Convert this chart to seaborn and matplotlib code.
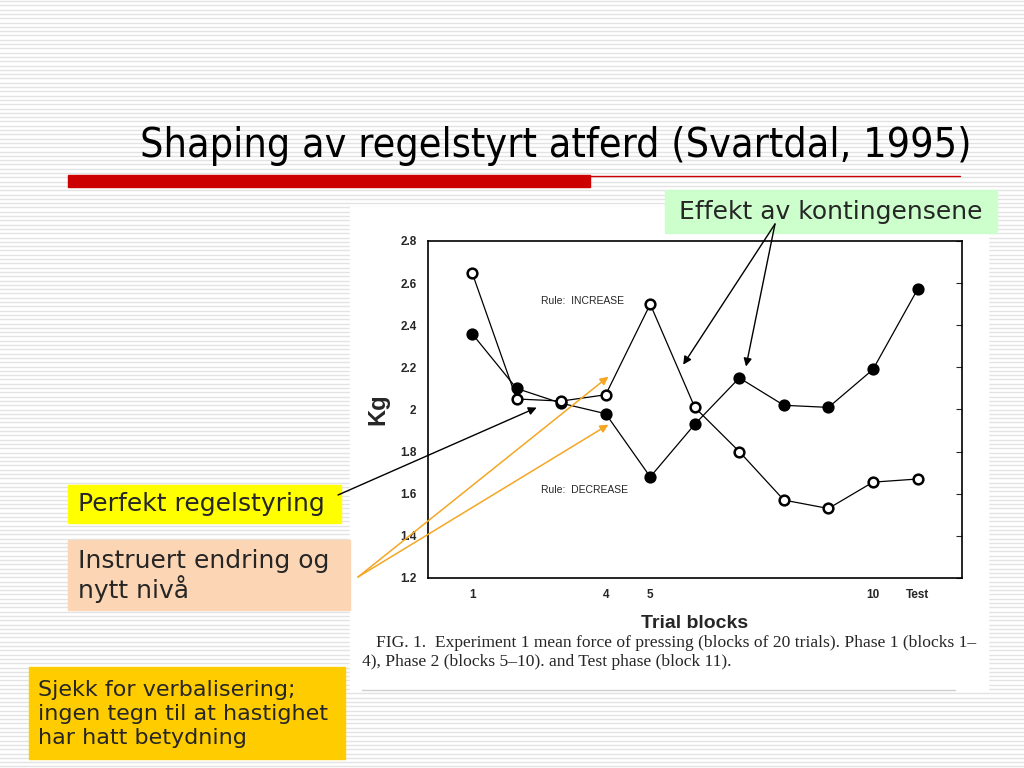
import numpy as np
import pandas as pd
import seaborn as sns
import matplotlib.pyplot as plt
from matplotlib.patches import Rectangle

blocks = [1, 2, 3, 4, 5, 6, 7, 8, 9, 10, 11]
increase = [2.36, 2.10, 2.03, 1.98, 1.68, 1.93, 2.15, 2.02, 2.01, 2.19, 2.57]
decrease = [2.65, 2.05, 2.04, 2.07, 2.50, 2.01, 1.80, 1.57, 1.53, 1.655, 1.67]
x_labels = ['1', '', '', '4', '5', '', '', '', '', '10', 'Test']
y_ticks = [1.2, 1.4, 1.6, 1.8, 2.0, 2.2, 2.4, 2.6, 2.8]
y_labels = ['1.2', '1.4', '1.6', '1.8', '2', '2.2', '2.4', '2.6', '2.8']

df = pd.DataFrame({'block': blocks * 2,
                   'kg': increase + decrease,
                   'rule': ['INCREASE'] * 11 + ['DECREASE'] * 11})

sns.set_style('white')
plt.rcParams['font.family'] = ['DejaVu Sans']

fig = plt.figure(figsize=(10.24, 7.68), dpi=100)

# slide background in pixel coordinates
bg = fig.add_axes([0, 0, 1, 1], zorder=0)
bg.set_xlim(0, 1024)
bg.set_ylim(768, 0)
bg.axis('off')
for yy in np.arange(1, 768, 4.3):
    bg.axhline(yy, color='#e3e3e3', lw=1.0, zorder=0)
bg.add_patch(Rectangle((350, 207), 638, 483, color='white', zorder=1))
bg.plot([362, 955], [690, 690], color='#cfcfcf', lw=1, zorder=2)
bg.add_patch(Rectangle((68, 175), 522, 12, color='#cc0000', zorder=2))
bg.plot([590, 960], [175.5, 175.5], color='#cc0000', lw=1, zorder=2)
bg.text(140, 146, 'Shaping av regelstyrt atferd (Svartdal, 1995)', fontsize=29.5,
        fontstretch='condensed', va='center', ha='left', color='black', zorder=3)
bg.text(376, 643, 'FIG. 1.  Experiment 1 mean force of pressing (blocks of 20 trials). Phase 1 (blocks 1\u2013',
        family='Liberation Serif', fontsize=12.6, va='center', zorder=3)
bg.text(362, 662, '4), Phase 2 (blocks 5\u201310). and Test phase (block 11).',
        family='Liberation Serif', fontsize=12.6, va='center', zorder=3)

# chart
ax = fig.add_axes([0.4175, 0.2474, 0.522, 0.4388], zorder=1)
ax.patch.set_alpha(0)
for rule, face in [('INCREASE', 'black'), ('DECREASE', 'white')]:
    sub = df[df['rule'] == rule]
    sns.lineplot(data=sub, x='block', y='kg', ax=ax, color='black', lw=0.9,
                 marker='o', markersize=7, markerfacecolor=face,
                 markeredgecolor='black', markeredgewidth=1.8)
ax.set_xlim(0, 12)
ax.set_ylim(1.2, 2.8)
ax.set_xticks(blocks)
ax.set_xticklabels(x_labels, family='Liberation Sans', fontsize=8.5, fontweight='bold')
ax.set_yticks(y_ticks)
ax.set_yticklabels(y_labels, family='Liberation Sans', fontsize=8.5, fontweight='bold')
ax.tick_params(direction='in', length=4, width=0.8, right=True, pad=8)
for s in ax.spines.values():
    s.set_color('black')
    s.set_linewidth(1.2)
ax.set_xlabel('Trial blocks', family='Liberation Sans', fontsize=14, fontweight='bold', labelpad=10)
ax.set_ylabel('Kg', family='Liberation Sans', fontsize=17, fontweight='bold', labelpad=8)
ax.text(2.55, 2.515, 'Rule:  INCREASE', family='Liberation Sans', fontsize=7.5, va='center')
ax.text(2.55, 1.62, 'Rule:  DECREASE', family='Liberation Sans', fontsize=7.5, va='center')

# overlay with callouts
ov = fig.add_axes([0, 0, 1, 1], zorder=2)
ov.set_xlim(0, 1024)
ov.set_ylim(768, 0)
ov.axis('off')
ov.patch.set_alpha(0)

box_font = 18
ov.add_patch(Rectangle((665, 190), 332, 43, color='#ccffcc'))
ov.text(831, 212, 'Effekt av kontingensene', fontsize=box_font, ha='center', va='center')
ov.add_patch(Rectangle((68, 485), 273, 38, color='#ffff00'))
ov.text(78, 504, 'Perfekt regelstyring', fontsize=box_font, ha='left', va='center')
ov.add_patch(Rectangle((68, 540), 282, 70, color='#fcd5b4'))
ov.text(78, 576, 'Instruert endring og\nnytt niv\u00e5', fontsize=box_font, ha='left', va='center',
        linespacing=1.13)
ov.add_patch(Rectangle((29, 667), 316, 92, color='#ffcc00'))
ov.text(38, 714, 'Sjekk for verbalisering;\ningen tegn til at hastighet\nhar hatt betydning',
        fontsize=16, ha='left', va='center', linespacing=1.22)

arrow_k = dict(arrowstyle='-|>', color='black', lw=1.0, mutation_scale=12, shrinkA=0, shrinkB=0)
arrow_o = dict(arrowstyle='-|>', color='#f5a623', lw=1.1, mutation_scale=12, shrinkA=0, shrinkB=0)
for tip in [(5.74, 2.213), (7.15, 2.204)]:
    ov.annotate('', xy=tip, xycoords=ax.transData, xytext=(775, 224), textcoords=ov.transData,
                arrowprops=arrow_k)
ov.annotate('', xy=(2.45, 2.009), xycoords=ax.transData, xytext=(338, 495),
            textcoords=ov.transData, arrowprops=arrow_k)
for tip in [(4.06, 2.156), (4.06, 1.928)]:
    ov.annotate('', xy=tip, xycoords=ax.transData, xytext=(358, 577), textcoords=ov.transData,
                arrowprops=arrow_o)

fig.savefig('out.png', dpi=100)
